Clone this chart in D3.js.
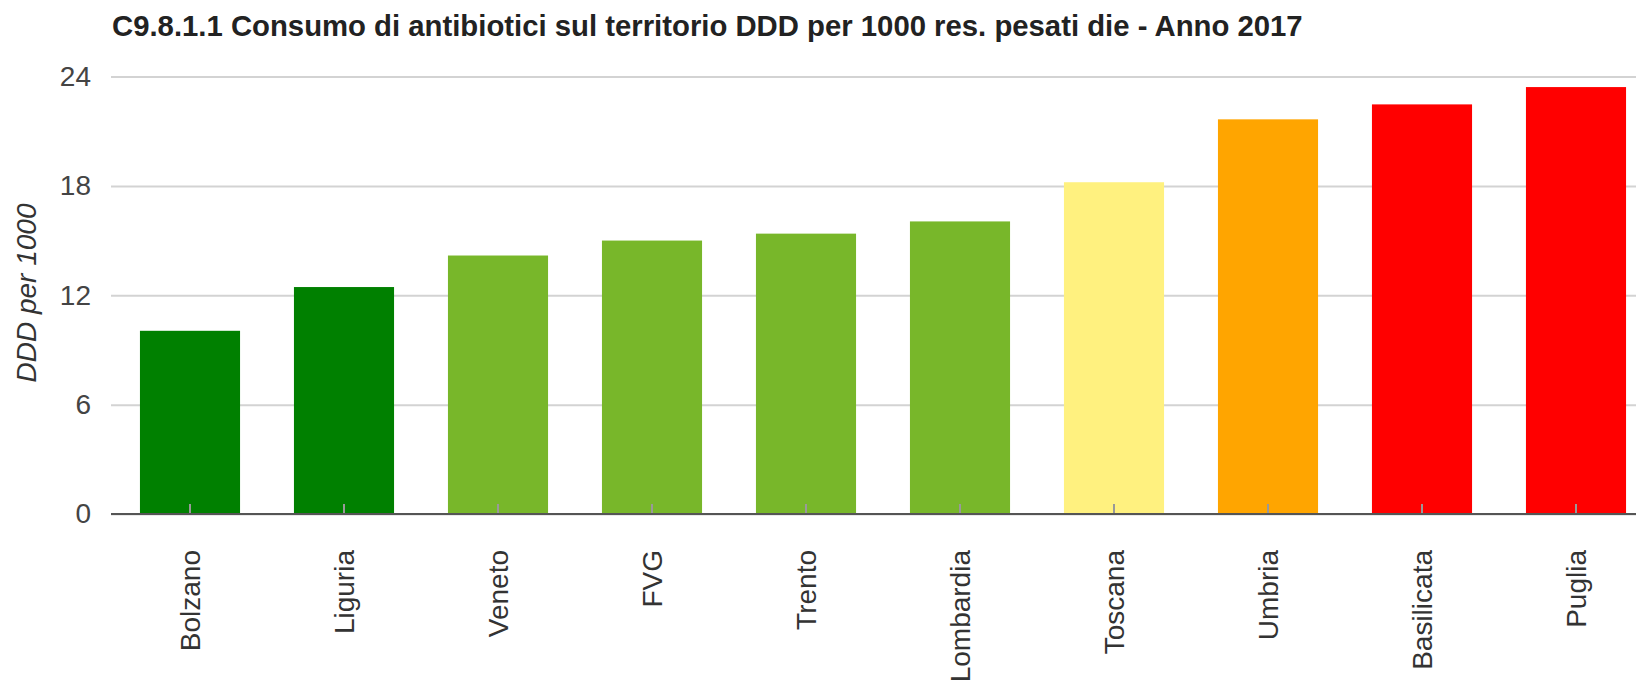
<!DOCTYPE html>
<html>
    <head>
        <title>C9.8.1.1 Consumo di antibiotici</title>
        <meta charset="UTF-8">
        <script src="https://cdn.jsdelivr.net/npm/d3@7"></script>
        <style>
body { margin: 0; background: #fff; }
text { font-family: "Liberation Sans", Arial, sans-serif; }
        </style>
    </head>
    <body>
        <script>
// data
var regioni = ["Bolzano", "Liguria", "Veneto", "FVG", "Trento", "Lombardia", "Toscana", "Umbria", "Basilicata", "Puglia"];
var valori = [10.05, 12.45, 14.18, 15.0, 15.38, 16.05, 18.2, 21.65, 22.47, 23.42];
var colori = ["#008000", "#008000", "#78b72a", "#78b72a", "#78b72a", "#78b72a", "#fff17f", "#ffa500", "#ff0000", "#ff0000"];
var yTicks = [0, 6, 12, 18, 24];

var W = 1636, H = 687;

var svg = d3.select("body")
            .append("svg")
            .attr("width", W)
            .attr("height", H);

var x = d3.scaleBand()
          .domain(regioni)
          .range([113, 1653])
          .paddingInner(0.35)
          .paddingOuter(0.175);

var y = d3.scaleLinear()
          .domain([0, 24])
          .range([514, 76.5]);

// title
svg.append("text")
   .attr("x", 112)
   .attr("y", 36)
   .attr("font-size", 29.3)
   .attr("font-weight", "bold")
   .attr("fill", "#222")
   .text("C9.8.1.1 Consumo di antibiotici sul territorio DDD per 1000 res. pesati die - Anno 2017");

// gridlines + y labels
var yAxis = d3.axisLeft(y)
              .tickValues(yTicks)
              .tickSize(-(W - 111))
              .tickPadding(20);
var gy = svg.append("g")
            .attr("transform", "translate(111,0)")
            .call(yAxis);
gy.select(".domain").remove();
gy.selectAll(".tick line")
  .attr("stroke", "#d3d3d3")
  .attr("stroke-width", 2);
gy.selectAll(".tick text")
  .attr("font-size", 28)
  .attr("fill", "#444")
  .attr("font-family", "Liberation Sans, Arial, sans-serif");

// y axis title
svg.append("text")
   .attr("transform", "translate(36,293) rotate(-90)")
   .attr("text-anchor", "middle")
   .attr("font-size", 28)
   .attr("font-style", "italic")
   .attr("fill", "#333")
   .text("DDD per 1000");

// bars
svg.selectAll("rect.bar")
   .data(valori)
   .enter()
   .append("rect")
   .attr("class", "bar")
   .attr("x", function(d, i){ return x(regioni[i]); })
   .attr("y", function(d){ return y(d); })
   .attr("width", x.bandwidth())
   .attr("height", function(d){ return y(0) - y(d); })
   .attr("fill", function(d, i){ return colori[i]; });

// x axis
var xAxis = d3.axisBottom(x).tickSize(0).tickPadding(0);
var gx = svg.append("g")
            .attr("transform", "translate(0," + y(0) + ")")
            .call(xAxis);
gx.select(".domain").remove();
gx.selectAll(".tick line").remove();
gx.selectAll(".tick").append("line")
  .attr("y1", 0)
  .attr("y2", -10)
  .attr("stroke", "#999")
  .attr("stroke-width", 2);
gx.selectAll(".tick text")
  .attr("font-size", 28)
  .attr("fill", "#333")
  .attr("font-family", "Liberation Sans, Arial, sans-serif")
  .attr("text-anchor", "end")
  .attr("transform", "translate(0,36) rotate(-90)")
  .attr("x", 0)
  .attr("y", 0)
  .attr("dy", "0.35em");

svg.append("line")
   .attr("x1", 111)
   .attr("x2", W)
   .attr("y1", y(0))
   .attr("y2", y(0))
   .attr("stroke", "#555")
   .attr("stroke-width", 2);
        </script>
    </body>
</html>
